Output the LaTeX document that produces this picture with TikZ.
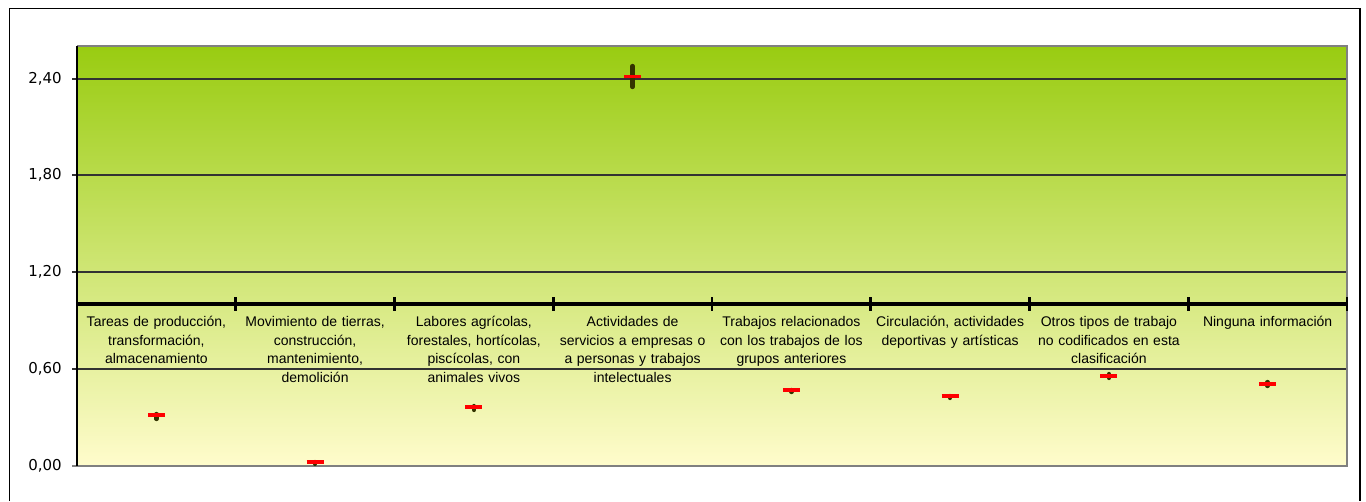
\documentclass[tikz,border=0pt]{standalone}
\usepackage{fontspec}
\setmainfont{Liberation Sans}
\newfontfamily\valfont{DejaVu Sans}
\definecolor{fondoverde}{RGB}{153,204,17}
\definecolor{fondomedio}{RGB}{205,226,130}
\definecolor{fondocrema}{RGB}{255,252,204}
\definecolor{marcarojo}{RGB}{255,0,0}
\definecolor{marcaoscuro}{RGB}{51,51,0}
\definecolor{rejilla}{RGB}{50,50,50}
\definecolor{bordegris}{RGB}{128,128,128}

\begin{document}
\begin{tikzpicture}[x=0.75pt, y=-0.75pt,
    ticklabel/.style={font=\valfont\fontsize{11.25}{13}\selectfont, anchor=east, inner sep=0pt},
    catlabel/.style={font=\fontsize{10.5}{14}\selectfont, align=center, anchor=north, inner sep=0pt, text width=128pt},
    rango/.style={draw=marcaoscuro, line width=3.2pt, line cap=round},
    media/.style={draw=marcarojo, line width=2.3pt}]
      \useasboundingbox (0,0) rectangle (1366,501);

      % marco exterior
      \draw[line width=1.1pt] (9.5,501) -- (9.5,8.5) -- (1360,8.5) -- (1360,501);

      % area de trazado
      \shade[top color=fondoverde, middle color=fondomedio, bottom color=fondocrema] (77,46) rectangle (1347,466);
      \foreach \y in {79,175,272,369}
        \draw[rejilla, line width=0.8pt] (72,\y) -- (1347,\y);
      \draw[bordegris, line width=1.5pt] (77,46) -- (1347,46) -- (1347,466) -- (72,466);
      \draw[line width=1pt] (77,46) -- (77,466);

      % eje de valores
      \node[ticklabel] (v240) at (62,79) {2,40};
      \node[ticklabel] (v180) at (62,175) {1,80};
      \node[ticklabel] (v120) at (62,272) {1,20};
      \node[ticklabel] (v060) at (62,369) {0,60};
      \node[ticklabel] (v000) at (62,466) {0,00};

      % eje de categorias
      \draw[line width=3pt] (77,304) -- (1347,304);
      \foreach \k in {0,...,8}
        \draw[line width=2.2pt] (77+158.75*\k,297) -- (77+158.75*\k,311);

      \node[catlabel] (c1) at (156.4,316) {Tareas de producción,\\transformación,\\almacenamiento};
      \node[catlabel] (c2) at (315.1,316) {Movimiento de tierras,\\construcción,\\mantenimiento,\\demolición};
      \node[catlabel] (c3) at (473.9,316) {Labores agrícolas,\\forestales, hortícolas,\\piscícolas, con\\animales vivos};
      \node[catlabel] (c4) at (632.6,316) {Actividades de\\servicios a empresas o\\a personas y trabajos\\intelectuales};
      \node[catlabel] (c5) at (791.4,316) {Trabajos relacionados\\con los trabajos de los\\grupos anteriores};
      \node[catlabel] (c6) at (950.1,316) {Circulación, actividades\\deportivas y artísticas};
      \node[catlabel] (c7) at (1108.9,316) {Otros tipos de trabajo\\no codificados en esta\\clasificación};
      \node[catlabel] (c8) at (1267.6,316) {Ninguna información};

      % valores
      \draw[rango] (156.4,414) -- (156.4,419);
      \draw[media] (148,415) -- (165,415);
      \draw[rango] (315.1,462) -- (315.1,464);
      \draw[media] (306.6,462) -- (323.6,462);
      \draw[rango] (473.9,406) -- (473.9,410);
      \draw[media] (465.4,407) -- (482.4,407);
      \draw[rango] (632.6,66) -- (632.6,87);
      \draw[media] (624.1,76.5) -- (641.1,76.5);
      \draw[rango] (791.4,390) -- (791.4,392);
      \draw[media] (782.9,390) -- (799.9,390);
      \draw[rango] (950.1,396) -- (950.1,398);
      \draw[media] (941.6,396) -- (958.6,396);
      \draw[rango] (1108.9,374) -- (1108.9,378);
      \draw[media] (1100.4,376) -- (1117.4,376);
      \draw[rango] (1267.6,382) -- (1267.6,386);
      \draw[media] (1259.1,384) -- (1276.1,384);
    \end{tikzpicture}
\end{document}
